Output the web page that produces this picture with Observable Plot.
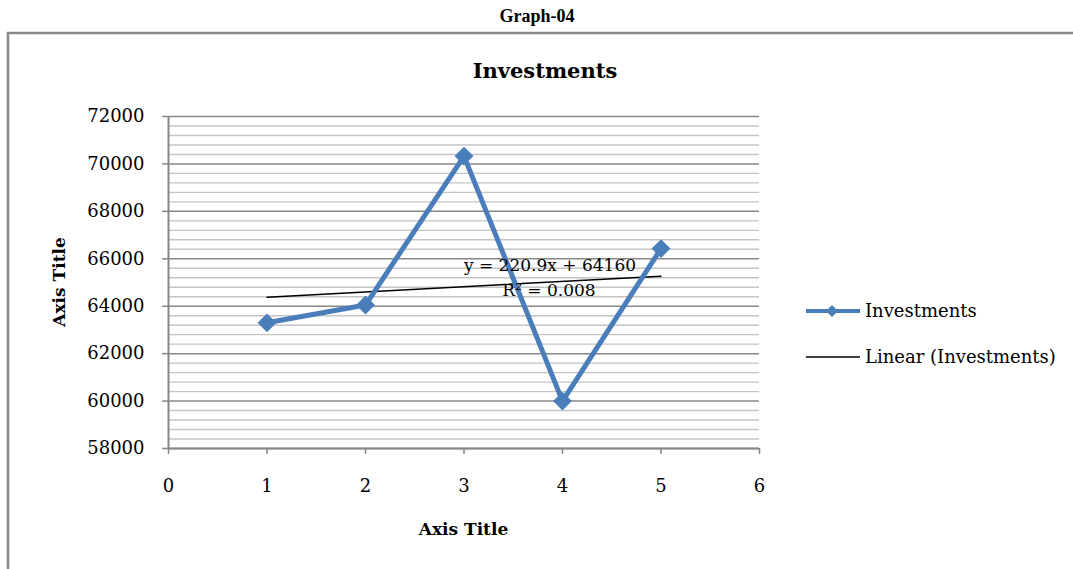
<!DOCTYPE html>
<html>
<head>
<meta charset="utf-8">
<script src="https://cdn.jsdelivr.net/npm/d3@7"></script>
<script src="https://cdn.jsdelivr.net/npm/@observablehq/plot@0.6"></script>
<style>
  html, body { margin: 0; padding: 0; background: #fff; }
  #chart { position: relative; width: 1073px; height: 569px; }
</style>
</head>
<body>
<div id="chart"></div>
<script>
// Series: yearly investments and their linear trend
const periods = [1, 2, 3, 4, 5];
const investments = [63300, 64050, 70330, 60000, 66430];
const trendSlope = 220.9;
const trendIntercept = 64160;
const trendR2 = 0.008;

// Axis ticks
const xTicks = [0, 1, 2, 3, 4, 5, 6];
const yTicks = [58000, 60000, 62000, 64000, 66000, 68000, 70000, 72000];
const yMinorTicks = d3.range(58000, 72000, 400).filter(v => v % 2000 !== 0);

// Text
const pageTitle = "Graph-04";
const chartTitle = "Investments";
const xTitle = "Axis Title";
const yTitle = "Axis Title";
const seriesName = "Investments";
const trendName = "Linear (Investments)";

const rows = periods.map((p, i) => ({period: p, value: investments[i]}));
const trendEnds = [periods[0], periods[periods.length - 1]];
const trendRows = trendEnds.map(p => ({period: p, value: trendIntercept + trendSlope * p}));

const W = 1073, H = 569;
const gridMajor = "#878787";
const gridMinor = "#c4c4c4";
const blue = "#4a7ebb";
const serif = "'DejaVu Serif', serif";

const plot = Plot.plot({
  width: W,
  height: H,
  marginLeft: 168,
  marginRight: 314,
  marginTop: 116,
  marginBottom: 121,
  style: {fontFamily: serif, fontSize: "18px", color: "#000", background: "transparent", overflow: "visible"},
  x: {domain: [0, 6]},
  y: {domain: [58000, 72000]},
  marks: [
    Plot.ruleY(yMinorTicks, {stroke: gridMinor, strokeWidth: 1.4}),
    Plot.ruleY(yTicks, {stroke: gridMajor, strokeWidth: 1.5}),
    Plot.ruleX([0], {stroke: gridMajor, strokeWidth: 2}),
    Plot.ruleY([58000], {stroke: gridMajor, strokeWidth: 2}),
    Plot.axisY({ticks: yTicks, tickFormat: d => String(d), tickSize: 6, tickPadding: 18,
      stroke: gridMajor, strokeWidth: 1.5, fill: "#000", label: null}),
    Plot.axisX({ticks: xTicks, tickFormat: d => String(d), tickSize: 6, tickPadding: 25,
      stroke: gridMajor, strokeWidth: 1.5, fill: "#000", label: null}),
    Plot.line(trendRows, {x: "period", y: "value", stroke: "#000", strokeWidth: 1.5}),
    Plot.line(rows, {x: "period", y: "value", stroke: blue, strokeWidth: 5, strokeLinejoin: "round"}),
    Plot.dot(rows, {x: "period", y: "value", symbol: "diamond2", r: 8.5, fill: blue, stroke: "none"})
  ]
});

document.getElementById("chart").appendChild(plot);

// Decorations: outer frame, titles, trend equation and legend
const svg = d3.select(plot);
svg.insert("path", ":first-child")
  .attr("d", `M8,${H} V33 H${W}`)
  .attr("fill", "none")
  .attr("stroke", "#878787")
  .attr("stroke-width", 2.5);

const deco = svg.append("g").attr("font-family", serif).attr("fill", "#000");

deco.append("text")
  .attr("x", 537).attr("y", 22)
  .attr("text-anchor", "middle")
  .attr("font-family", "'Liberation Serif', serif")
  .attr("font-weight", "bold").attr("font-size", 18)
  .text(pageTitle);

deco.append("text")
  .attr("x", 545).attr("y", 78)
  .attr("text-anchor", "middle")
  .attr("font-weight", "bold").attr("font-size", 21)
  .text(chartTitle);

deco.append("text")
  .attr("x", 463.5).attr("y", 535)
  .attr("text-anchor", "middle")
  .attr("font-weight", "bold").attr("font-size", 17)
  .text(xTitle);

deco.append("text")
  .attr("transform", "translate(65,282) rotate(-90)")
  .attr("text-anchor", "middle")
  .attr("font-weight", "bold").attr("font-size", 17)
  .text(yTitle);

deco.append("text")
  .attr("x", 550).attr("y", 271)
  .attr("text-anchor", "middle").attr("font-size", 17)
  .text(`y = ${trendSlope}x + ${trendIntercept}`);

deco.append("text")
  .attr("x", 549).attr("y", 296)
  .attr("text-anchor", "middle").attr("font-size", 17)
  .text(`R\u00B2 = ${trendR2.toFixed(3)}`);

// Legend
const legend = deco.append("g").attr("font-size", 18).attr("text-anchor", "start");
legend.append("line")
  .attr("x1", 806).attr("x2", 860).attr("y1", 311).attr("y2", 311)
  .attr("stroke", blue).attr("stroke-width", 4);
legend.append("path")
  .attr("d", "M832,305 L838,311 L832,317 L826,311 Z")
  .attr("fill", blue);
legend.append("text").attr("x", 865).attr("y", 317).text(seriesName);
legend.append("line")
  .attr("x1", 806).attr("x2", 860).attr("y1", 357).attr("y2", 357)
  .attr("stroke", "#000").attr("stroke-width", 1.5);
legend.append("text").attr("x", 865).attr("y", 363).text(trendName);
</script>
</body>
</html>
